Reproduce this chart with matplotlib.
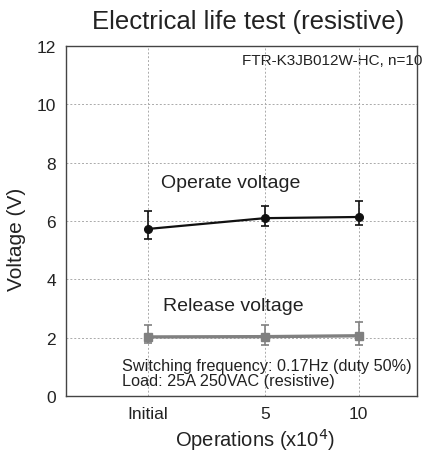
import matplotlib
matplotlib.use("Agg")
import matplotlib.pyplot as plt

plt.rcParams['font.family'] = ['Liberation Sans', 'DejaVu Sans']

# tick positions along the x axis (unequal spacing, as in the source chart)
x_pos = [0, 5, 9]
x_labels = ['Initial', '5', '10']

operate_avg = [5.73, 6.10, 6.14]
operate_max = [6.34, 6.51, 6.70]
operate_min = [5.38, 5.84, 5.87]

release_avg = [2.03, 2.04, 2.07]
release_max = [2.44, 2.45, 2.53]
release_min = [1.81, 1.76, 1.75]

fig = plt.figure(figsize=(4.31, 4.56), dpi=100)
ax = fig.add_axes([0.153, 0.129, 0.815, 0.768])

op_err = [[a - b for a, b in zip(operate_avg, operate_min)],
          [b - a for a, b in zip(operate_avg, operate_max)]]
rel_err = [[a - b for a, b in zip(release_avg, release_min)],
           [b - a for a, b in zip(release_avg, release_max)]]

ax.errorbar(x_pos, release_avg, yerr=rel_err, color='#808080', lw=2.4,
            marker='s', ms=5.5, capsize=3, elinewidth=1.2, capthick=1.2, zorder=3)
ax.errorbar(x_pos, operate_avg, yerr=op_err, color='#111111', lw=1.6,
            marker='o', ms=5.5, capsize=3, elinewidth=1.2, capthick=1.2, zorder=4)

ax.set_xlim(-3.5, 11.5)
ax.set_ylim(0, 12)
ax.set_yticks(range(0, 13, 2))
ax.set_xticks(x_pos)
ax.set_xticklabels(x_labels)
ax.tick_params(length=0, labelsize=12.5, colors='#222222', pad=7)
ax.grid(True, ls=(0, (2, 2)), color='#aaaaaa', lw=0.7)
for s in ax.spines.values():
    s.set_color('#444444')
    s.set_linewidth(1.0)

ax.set_ylabel('Voltage (V)', fontsize=15, color='#222222')
ax.yaxis.set_label_coords(-0.115, 0.45)
ax.set_xlabel('Operations (x10$^{4}$)', fontsize=14.5, color='#222222')
ax.xaxis.set_label_coords(0.54, -0.085)

fig.text(0.575, 0.952, 'Electrical life test (resistive)', fontsize=18.5,
         ha='center', va='center', color='#222222')

ax.text(1.014, 0.96, 'FTR-K3JB012W-HC, n=10', transform=ax.transAxes,
        ha='right', va='center', fontsize=11, color='#222222', zorder=0)
ax.text(0.271, 0.611, 'Operate voltage', transform=ax.transAxes,
        ha='left', va='center', fontsize=14, color='#222222')
ax.text(0.276, 0.26, 'Release voltage', transform=ax.transAxes,
        ha='left', va='center', fontsize=14, color='#222222')
ax.text(0.16, 0.089, 'Switching frequency: 0.17Hz (duty 50%)', transform=ax.transAxes,
        ha='left', va='center', fontsize=11.7, color='#222222')
ax.text(0.16, 0.044, 'Load: 25A 250VAC (resistive)', transform=ax.transAxes,
        ha='left', va='center', fontsize=11.7, color='#222222')

fig.savefig('out.png', dpi=100)
